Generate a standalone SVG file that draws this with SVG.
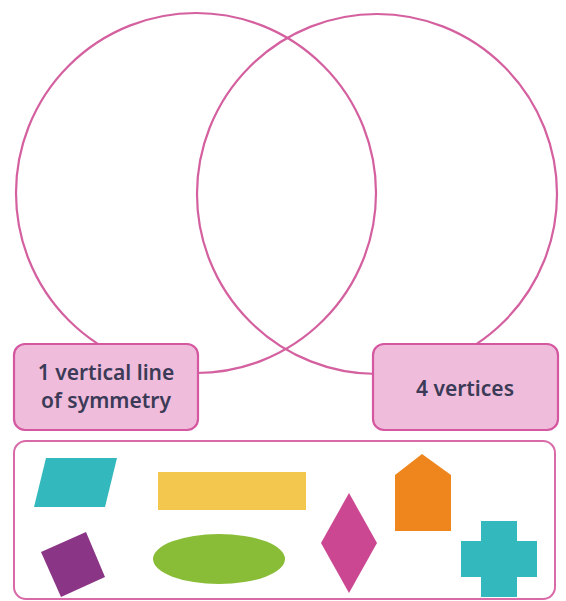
<svg xmlns="http://www.w3.org/2000/svg" width="566" height="601" viewBox="0 0 566 601">
<style>
.circ{fill:none;stroke:#d4609f;stroke-width:2.2}
.lbl{fill:#efbcdb;stroke:#d5579f;stroke-width:2.2}
.txt{font-family:"Noto Sans",sans-serif;font-size:21px;font-weight:600;fill:#3b3a57;text-anchor:middle}
</style>
<rect width="566" height="601" fill="#ffffff"/>
<g id="connectors">
<circle class="circ" cx="196" cy="193" r="180"/>
<circle class="circ" cx="377" cy="194" r="180"/>
</g>
<g id="label-left">
<rect class="lbl" x="14" y="344" width="184" height="86" rx="11"/>
<text class="txt" x="106" y="380">1 vertical line</text>
<text class="txt" x="106" y="408">of symmetry</text>
</g>
<g id="label-right">
<rect class="lbl" x="373" y="344" width="185" height="86" rx="11"/>
<text class="txt" x="465" y="396">4 vertices</text>
</g>
<g id="shape-box">
<rect x="14" y="441" width="541" height="158" rx="12" fill="#ffffff" stroke="#d96aa8" stroke-width="2"/>
</g>
<g id="parallelogram"><polygon points="46,458 117,458 105,507 34,507" fill="#33b8bd"/></g>
<g id="rectangle"><rect x="158" y="472" width="148" height="38" fill="#f3c74d"/></g>
<g id="square"><polygon points="41,552 86,532 105,577 61,597" fill="#8a3585"/></g>
<g id="ellipse"><ellipse cx="219" cy="559" rx="66" ry="25" fill="#89bd37"/></g>
<g id="rhombus"><polygon points="349,493 377,543 349,593 321,543" fill="#cb4792"/></g>
<g id="pentagon"><polygon points="422,454 451,475 451,531 395,531 395,475" fill="#ee851d"/></g>
<g id="cross"><polygon points="481,521 517,521 517,541 537,541 537,577 517,577 517,597 481,597 481,577 461,577 461,541 481,541" fill="#33b8bd"/></g>
</svg>
